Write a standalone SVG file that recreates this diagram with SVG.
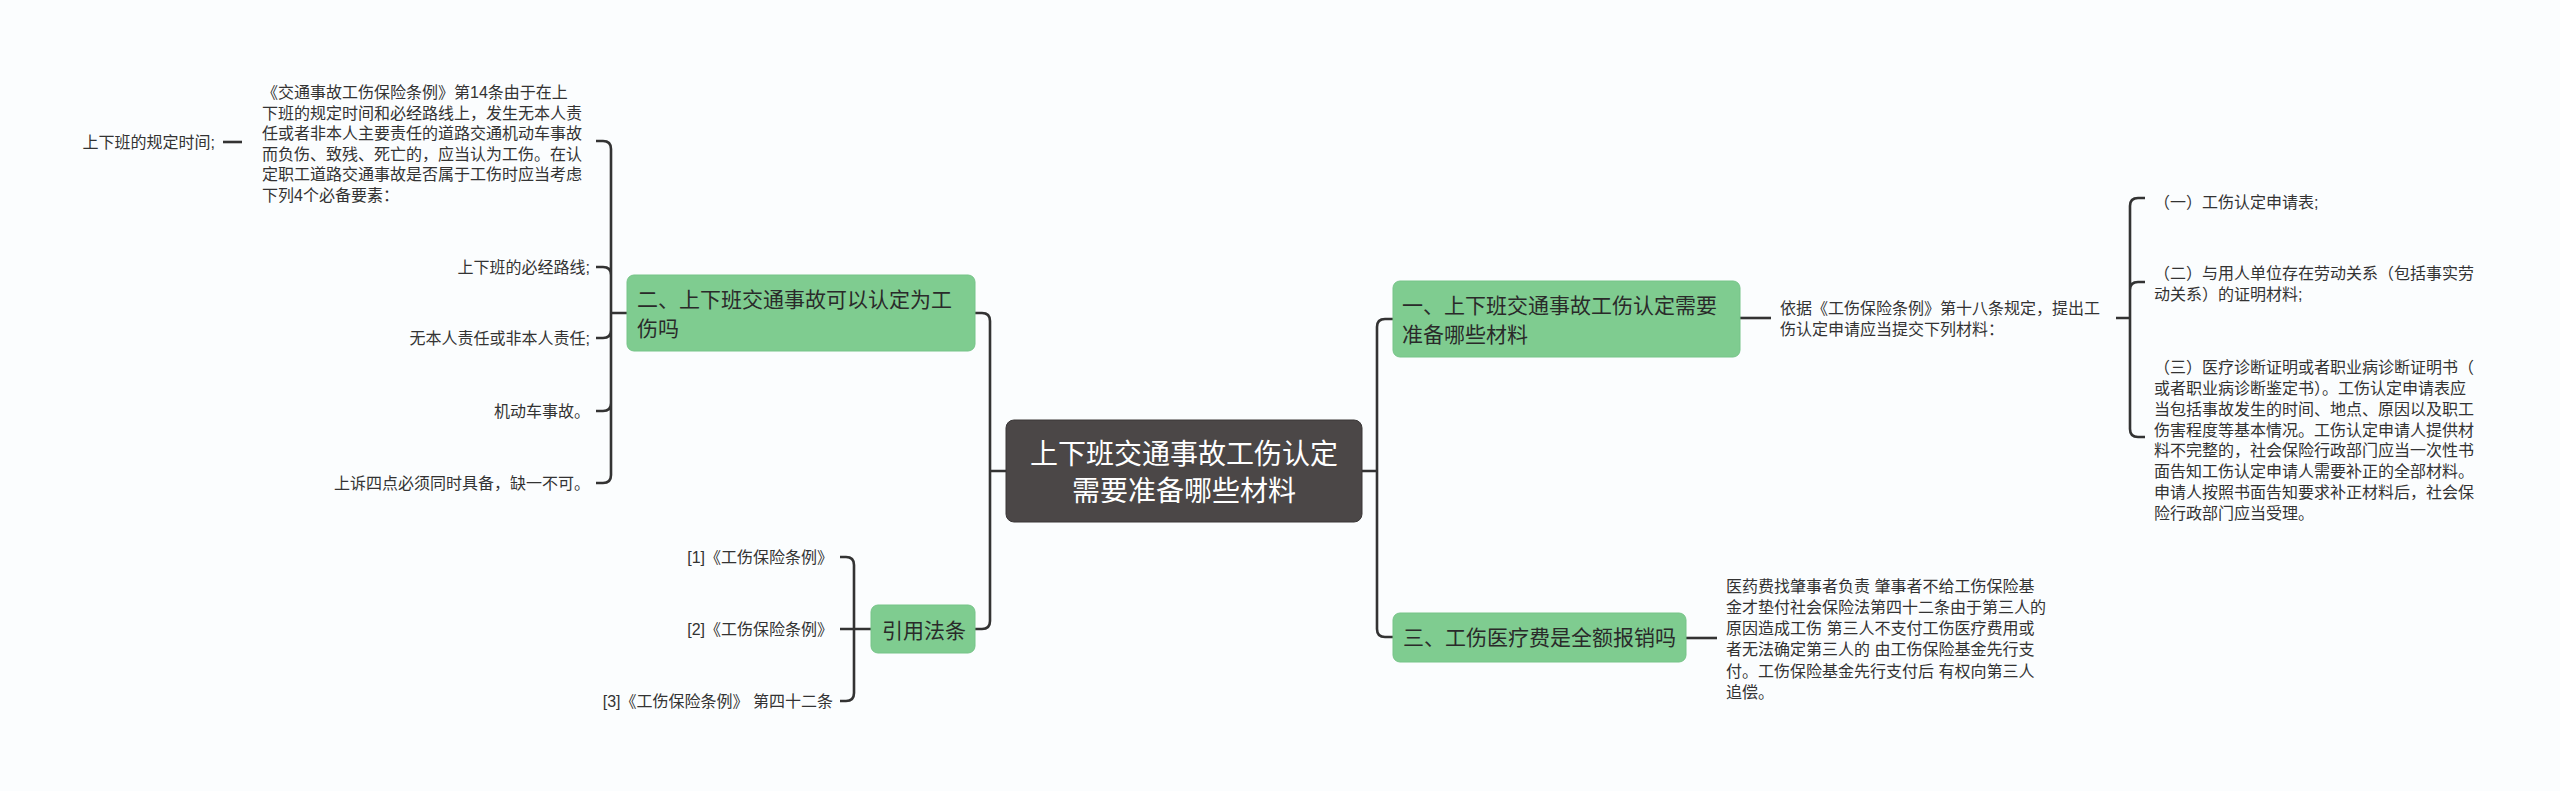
<svg xmlns="http://www.w3.org/2000/svg" width="2560" height="791" viewBox="0 0 2560 791">
<style>
.bg{fill:#fbfdfe}
.c{fill:none;stroke:#333333;stroke-width:2.6;stroke-linecap:butt}
.g{fill:#7fcc90;stroke:#76c488;stroke-width:1}
.root{fill:#4b4747;stroke:#3a3737;stroke-width:1}
.t{font-family:"Liberation Sans","Noto Sans CJK SC",sans-serif;font-size:16px;fill:#333333}
.nt{font-family:"Liberation Sans","Noto Sans CJK SC",sans-serif;font-size:21px;fill:#2a2a2a}
.rt{font-family:"Liberation Sans","Noto Sans CJK SC",sans-serif;font-size:28px;fill:#ffffff}
.e{text-anchor:end}
</style>
<rect class="bg" x="0" y="0" width="2560" height="791"/>

<g id="connectors">
  <path class="c" d="M1006,471 H990 M975,313 H982 Q990,313 990,321 V471 M975,629 H982 Q990,629 990,621 V471"/>
  <path class="c" d="M1362,471 H1377 M1393,319 H1385 Q1377,319 1377,327 V471 M1393,637 H1385 Q1377,637 1377,629 V471"/>
  <path class="c" d="M627,313 H611 M611,313 V149 Q611,141 603,141 H596 M611,313 V275 Q611,267 603,267 H596 M611,313 V330 Q611,338 603,338 H596 M611,313 V403 Q611,411 603,411 H596 M611,313 V475 Q611,483 603,483 H596"/>
  <path class="c" d="M242,142 H223"/>
  <path class="c" d="M871,629 H840 M854,629 V565 Q854,557 846,557 H840 M854,629 V693 Q854,701 846,701 H840"/>
  <path class="c" d="M1740,318 H1771"/>
  <path class="c" d="M2116,318 H2130 M2130,318 V206 Q2130,198 2138,198 H2145 M2130,318 V290 Q2130,282 2138,282 H2145 M2130,318 V429 Q2130,437 2138,437 H2145"/>
  <path class="c" d="M1686,638 H1717"/>
</g>

<g id="root">
  <rect class="root" x="1006" y="420" width="356" height="102" rx="8"/>
  <text class="rt" x="1184" y="463.5" text-anchor="middle">上下班交通事故工伤认定</text>
  <text class="rt" x="1184" y="500.5" text-anchor="middle">需要准备哪些材料</text>
</g>

<g id="node-er">
  <rect class="g" x="627" y="275" width="348" height="76" rx="7"/>
  <text class="nt" x="637" y="307">二、上下班交通事故可以认定为工</text>
  <text class="nt" x="637" y="336">伤吗</text>
</g>

<g id="node-yinyong">
  <rect class="g" x="871" y="605" width="104" height="48" rx="7"/>
  <text class="nt" x="882" y="638">引用法条</text>
</g>

<g id="node-yi">
  <rect class="g" x="1393" y="281" width="347" height="76" rx="7"/>
  <text class="nt" x="1402" y="313">一、上下班交通事故工伤认定需要</text>
  <text class="nt" x="1402" y="342">准备哪些材料</text>
</g>

<g id="node-san">
  <rect class="g" x="1393" y="613" width="293" height="49" rx="7"/>
  <text class="nt" x="1403" y="645">三、工伤医疗费是全额报销吗</text>
</g>

<g id="leaf-law14">
  <text class="t" x="262">
    <tspan x="262" y="98">《交通事故工伤保险条例》第14条由于在上</tspan>
    <tspan x="262" y="118.6">下班的规定时间和必经路线上，发生无本人责</tspan>
    <tspan x="262" y="139.2">任或者非本人主要责任的道路交通机动车事故</tspan>
    <tspan x="262" y="159.8">而负伤、致残、死亡的，应当认为工伤。在认</tspan>
    <tspan x="262" y="180.4">定职工道路交通事故是否属于工伤时应当考虑</tspan>
    <tspan x="262" y="201">下列4个必备要素：</tspan>
  </text>
</g>
<g id="leaf-time"><text class="t e" x="215" y="148">上下班的规定时间;</text></g>
<g id="leaf-route"><text class="t e" x="590" y="273">上下班的必经路线;</text></g>
<g id="leaf-resp"><text class="t e" x="590" y="344">无本人责任或非本人责任;</text></g>
<g id="leaf-motor"><text class="t e" x="590" y="417">机动车事故。</text></g>
<g id="leaf-all"><text class="t e" x="590" y="489">上诉四点必须同时具备，缺一不可。</text></g>

<g id="leaf-ref1"><text class="t e" x="833" y="563">[1]《工伤保险条例》</text></g>
<g id="leaf-ref2"><text class="t e" x="833" y="635">[2]《工伤保险条例》</text></g>
<g id="leaf-ref3"><text class="t e" x="833" y="707">[3]《工伤保险条例》 第四十二条</text></g>

<g id="leaf-basis">
  <text class="t">
    <tspan x="1780" y="314">依据《工伤保险条例》第十八条规定，提出工</tspan>
    <tspan x="1780" y="335">伤认定申请应当提交下列材料：</tspan>
  </text>
</g>
<g id="leaf-item1"><text class="t" x="2154" y="208">（一）工伤认定申请表;</text></g>
<g id="leaf-item2">
  <text class="t">
    <tspan x="2154" y="279">（二）与用人单位存在劳动关系（包括事实劳</tspan>
    <tspan x="2154" y="299.8">动关系）的证明材料;</tspan>
  </text>
</g>
<g id="leaf-item3">
  <text class="t">
    <tspan x="2154" y="373">（三）医疗诊断证明或者职业病诊断证明书（</tspan>
    <tspan x="2154" y="393.9">或者职业病诊断鉴定书）。工伤认定申请表应</tspan>
    <tspan x="2154" y="414.7">当包括事故发生的时间、地点、原因以及职工</tspan>
    <tspan x="2154" y="435.6">伤害程度等基本情况。工伤认定申请人提供材</tspan>
    <tspan x="2154" y="456.4">料不完整的，社会保险行政部门应当一次性书</tspan>
    <tspan x="2154" y="477.3">面告知工伤认定申请人需要补正的全部材料。</tspan>
    <tspan x="2154" y="498.2">申请人按照书面告知要求补正材料后，社会保</tspan>
    <tspan x="2154" y="519">险行政部门应当受理。</tspan>
  </text>
</g>
<g id="leaf-medical">
  <text class="t">
    <tspan x="1726" y="592">医药费找肇事者负责 肇事者不给工伤保险基</tspan>
    <tspan x="1726" y="613">金才垫付社会保险法第四十二条由于第三人的</tspan>
    <tspan x="1726" y="634">原因造成工伤 第三人不支付工伤医疗费用或</tspan>
    <tspan x="1726" y="655">者无法确定第三人的 由工伤保险基金先行支</tspan>
    <tspan x="1726" y="677">付。工伤保险基金先行支付后 有权向第三人</tspan>
    <tspan x="1726" y="698">追偿。</tspan>
  </text>
</g>
</svg>
